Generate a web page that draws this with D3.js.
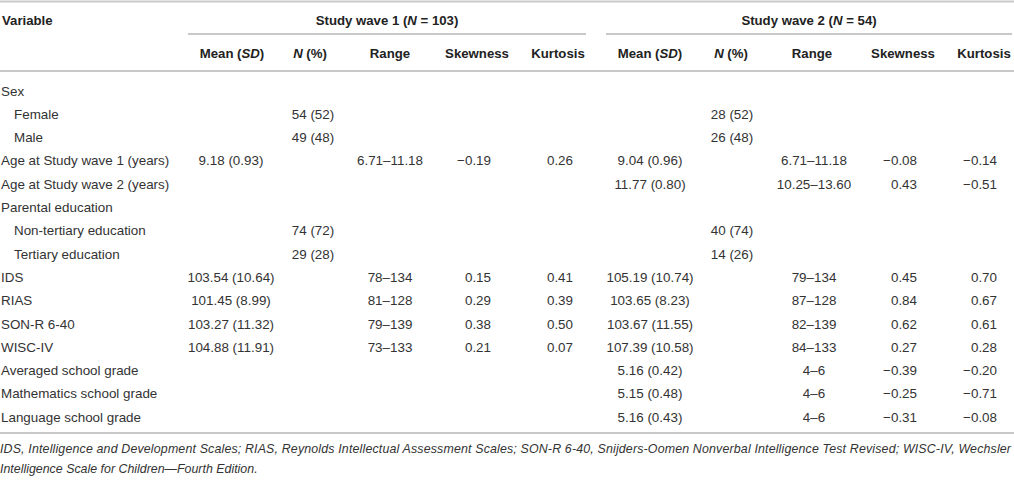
<!DOCTYPE html>
<html>
<head>
<meta charset="utf-8">
<script src="https://cdn.jsdelivr.net/npm/d3@7"></script>
<style>
  html, body { margin: 0; padding: 0; background: #fff; }
  svg { display: block; font-family: "Liberation Sans", Arial, sans-serif; }
  .cell { font-size: 13.4px; fill: #333; }
  .head { font-size: 13.2px; font-weight: bold; fill: #222; }
  .note { font-size: 12.4px; font-style: italic; fill: #333; }
  .rule { stroke: #c9c9c9; stroke-width: 2; }
</style>
</head>
<body>
<svg id="table" width="1014" height="480"></svg>
<script>
// Row labels
const variables = [
  "Sex", "Female", "Male",
  "Age at Study wave 1 (years)", "Age at Study wave 2 (years)",
  "Parental education", "Non-tertiary education", "Tertiary education",
  "IDS", "RIAS", "SON-R 6-40", "WISC-IV",
  "Averaged school grade", "Mathematics school grade", "Language school grade"
];
const indented = [false, true, true, false, false, false, true, true, false, false, false, false, false, false, false];

// Study wave 1 (N = 103)
const w1Mean  = [null, null, null, 9.18, null, null, null, null, 103.54, 101.45, 103.27, 104.88, null, null, null];
const w1SD    = [null, null, null, 0.93, null, null, null, null, 10.64, 8.99, 11.32, 11.91, null, null, null];
const w1Count = [null, 54, 49, null, null, null, 74, 29, null, null, null, null, null, null, null];
const w1Pct   = [null, 52, 48, null, null, null, 72, 28, null, null, null, null, null, null, null];
const w1Min   = [null, null, null, 6.71, null, null, null, null, 78, 81, 79, 73, null, null, null];
const w1Max   = [null, null, null, 11.18, null, null, null, null, 134, 128, 139, 133, null, null, null];
const w1Skew  = [null, null, null, -0.19, null, null, null, null, 0.15, 0.29, 0.38, 0.21, null, null, null];
const w1Kurt  = [null, null, null, 0.26, null, null, null, null, 0.41, 0.39, 0.50, 0.07, null, null, null];

// Study wave 2 (N = 54)
const w2Mean  = [null, null, null, 9.04, 11.77, null, null, null, 105.19, 103.65, 103.67, 107.39, 5.16, 5.15, 5.16];
const w2SD    = [null, null, null, 0.96, 0.80, null, null, null, 10.74, 8.23, 11.55, 10.58, 0.42, 0.48, 0.43];
const w2Count = [null, 28, 26, null, null, null, 40, 14, null, null, null, null, null, null, null];
const w2Pct   = [null, 52, 48, null, null, null, 74, 26, null, null, null, null, null, null, null];
const w2Min   = [null, null, null, 6.71, 10.25, null, null, null, 79, 87, 82, 84, 4, 4, 4];
const w2Max   = [null, null, null, 11.18, 13.60, null, null, null, 134, 128, 139, 133, 6, 6, 6];
const w2Skew  = [null, null, null, -0.08, 0.43, null, null, null, 0.45, 0.84, 0.62, 0.27, -0.39, -0.25, -0.31];
const w2Kurt  = [null, null, null, -0.14, -0.51, null, null, null, 0.70, 0.67, 0.61, 0.28, -0.20, -0.71, -0.08];

const footnote = [
  "IDS, Intelligence and Development Scales; RIAS, Reynolds Intellectual Assessment Scales; SON-R 6-40, Snijders-Oomen Nonverbal Intelligence Test Revised; WISC-IV, Wechsler",
  "Intelligence Scale for Children\u2014Fourth Edition."
];

const svg = d3.select("#table");
const W = 1014;

const f2 = d3.format(".2f");
const fRange = v => Number.isInteger(v) ? d3.format("d")(v) : f2(v);

// rows
const y = d3.scaleBand()
  .domain(d3.range(variables.length))
  .range([79.4, 79.4 + 23.3 * variables.length]);
const cy = i => y(i) + y.bandwidth() / 2;

// column positions (x, anchor)
const cols = [
  { key: "w1Mean", x: 231, anchor: "middle", text: i => w1Mean[i] == null ? "" : `${f2(w1Mean[i])} (${f2(w1SD[i])})` },
  { key: "w1N",    x: 313, anchor: "middle", text: i => w1Count[i] == null ? "" : `${w1Count[i]} (${w1Pct[i]})` },
  { key: "w1Rng",  x: 390, anchor: "middle", text: i => w1Min[i] == null ? "" : `${fRange(w1Min[i])}\u2013${fRange(w1Max[i])}` },
  { key: "w1Skew", x: 491, anchor: "end",    text: i => w1Skew[i] == null ? "" : f2(w1Skew[i]) },
  { key: "w1Kurt", x: 573, anchor: "end",    text: i => w1Kurt[i] == null ? "" : f2(w1Kurt[i]) },
  { key: "w2Mean", x: 650, anchor: "middle", text: i => w2Mean[i] == null ? "" : `${f2(w2Mean[i])} (${f2(w2SD[i])})` },
  { key: "w2N",    x: 732, anchor: "middle", text: i => w2Count[i] == null ? "" : `${w2Count[i]} (${w2Pct[i]})` },
  { key: "w2Rng",  x: 814, anchor: "middle", text: i => w2Min[i] == null ? "" : `${fRange(w2Min[i])}\u2013${fRange(w2Max[i])}` },
  { key: "w2Skew", x: 917, anchor: "end",    text: i => w2Skew[i] == null ? "" : f2(w2Skew[i]) },
  { key: "w2Kurt", x: 997, anchor: "end",    text: i => w2Kurt[i] == null ? "" : f2(w2Kurt[i]) }
];

// horizontal rules
const rules = [
  { x1: 0, x2: W, y: 1.5 },
  { x1: 188, x2: 586, y: 34 },
  { x1: 606, x2: 1012, y: 34 },
  { x1: 0, x2: W, y: 71 },
  { x1: 0, x2: W, y: 433 }
];
svg.selectAll("line.rule").data(rules).enter().append("line")
  .attr("class", "rule")
  .attr("x1", d => d.x1).attr("x2", d => d.x2)
  .attr("y1", d => d.y).attr("y2", d => d.y);

// header helper: parts = [[text, italic], ...]
function header(x, yy, parts, anchor) {
  const t = svg.append("text").attr("class", "head")
    .attr("x", x).attr("y", yy)
    .attr("dominant-baseline", "central")
    .attr("text-anchor", anchor || "middle");
  parts.forEach(p => t.append("tspan").text(p[0]).style("font-style", p[1] ? "italic" : null));
}

header(2, 20, [["Variable", false]], "start");
header(387, 20, [["Study wave 1 (", false], ["N", true], [" = 103)", false]]);
header(809, 20, [["Study wave 2 (", false], ["N", true], [" = 54)", false]]);

const subHeads = [
  [["Mean (", false], ["SD", true], [")", false]],
  [["N", true], [" (%)", false]],
  [["Range", false]],
  [["Skewness", false]],
  [["Kurtosis", false]]
];
const subX = [232, 310, 390, 477, 558, 650, 731, 812, 903, 984];
subX.forEach((x, k) => header(x, 53, subHeads[k % 5]));

// row labels
svg.selectAll("text.label").data(variables).enter().append("text")
  .attr("class", "cell label")
  .attr("x", (d, i) => indented[i] ? 14 : 1)
  .attr("y", (d, i) => cy(i))
  .attr("dominant-baseline", "central")
  .text(d => d);

// cells
cols.forEach(c => {
  svg.selectAll("text." + c.key).data(variables.map((d, i) => i)).enter().append("text")
    .attr("class", "cell " + c.key)
    .attr("x", c.x)
    .attr("y", i => cy(i))
    .attr("text-anchor", c.anchor)
    .attr("dominant-baseline", "central")
    .text(i => c.text(i));
});

// footnote
svg.selectAll("text.note").data(footnote).enter().append("text")
  .attr("class", "note")
  .attr("x", 0)
  .attr("y", (d, i) => 449 + i * 20)
  .attr("dominant-baseline", "central")
  .attr("textLength", (d, i) => i === 0 ? 1011 : null)
  .attr("lengthAdjust", "spacing")
  .text(d => d);
</script>
</body>
</html>
